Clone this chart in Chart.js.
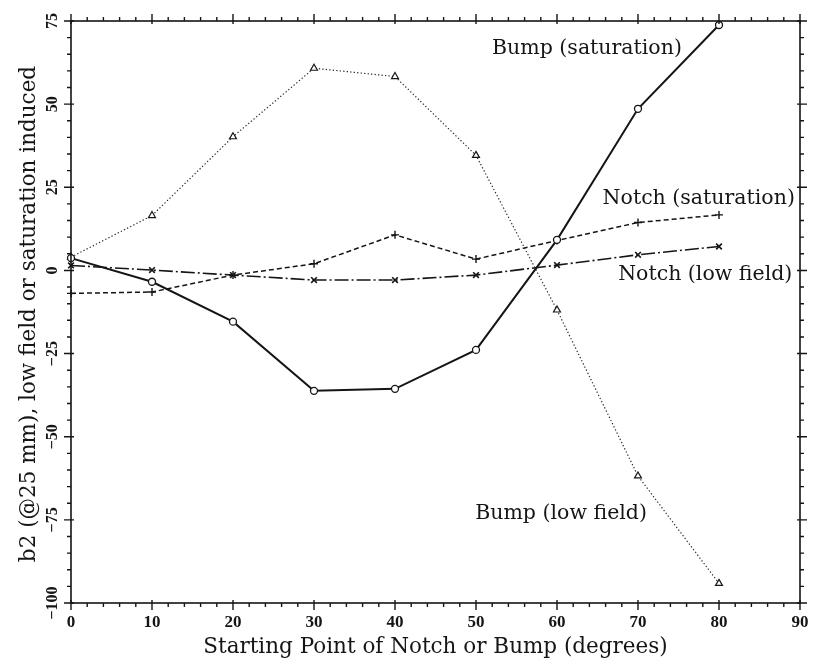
<!DOCTYPE html>
<html>
<head>
<meta charset="utf-8">
<script src="https://cdn.jsdelivr.net/npm/chart.js@4/dist/chart.umd.min.js"></script>
<style>
  html, body { margin: 0; padding: 0; background: #fff; overflow: hidden; }
  #wrap { width: 824px; height: 668px; position: relative; }
</style>
</head>
<body>
<div id="wrap"><canvas id="chart"></canvas></div>
<script>
// values
const degrees = [0, 10, 20, 30, 40, 50, 60, 70, 80];
const bumpSaturation = [3.7, -3.4, -15.4, -36.2, -35.6, -23.9, 9.2, 48.6, 73.8];
const bumpLowField = [4.0, 16.5, 40.2, 60.8, 58.3, 34.6, -11.9, -61.8, -94.1];
const notchSaturation = [-6.9, -6.5, -1.4, 2.0, 10.7, 3.4, 9.0, 14.4, 16.7];
const notchLowField = [1.5, 0.1, -1.4, -2.9, -2.9, -1.4, 1.6, 4.7, 7.2];

const xTickLabels = [0, 10, 20, 30, 40, 50, 60, 70, 80, 90];
const yTickLabels = [-100, -75, -50, -25, 0, 25, 50, 75];
const xTitle = 'Starting Point of Notch or Bump (degrees)';
const yTitle = 'b2 (@25 mm), low field or saturation induced';

const curveLabels = ['Bump (saturation)', 'Notch (saturation)', 'Notch (low field)', 'Bump (low field)'];
const curveLabelX = [63.7, 77.5, 78.3, 60.5];
const curveLabelY = [66.6, 21.5, -1.4, -73.2];

const INK = '#151515';
const SERIF = '"DejaVu Serif", serif';

function pts(ys) { return degrees.map((d, i) => ({x: d, y: ys[i]})); }

const axesPlugin = {
    id: 'axesPlugin',
    afterDraw(chart) {
        const ctx = chart.ctx;
        const xs = chart.scales.x, ys = chart.scales.y;
        const a = chart.chartArea;
        ctx.save();
        ctx.strokeStyle = INK;
        ctx.fillStyle = INK;
        ctx.lineWidth = 1.6;
        ctx.strokeRect(a.left, a.top, a.right - a.left, a.bottom - a.top);

        ctx.lineWidth = 1.4;
        ctx.beginPath();
        // x ticks, every 2 degrees, major every 10
        for(let v = 0; v <= 90; v += 2) {
            const px = xs.getPixelForValue(v);
            const major = v % 10 === 0;
            const out = major ? 7 : 4, inn = major ? 3 : 0;
            ctx.moveTo(px, a.bottom - inn); ctx.lineTo(px, a.bottom + out);
            ctx.moveTo(px, a.top + inn); ctx.lineTo(px, a.top - out);
        }
        // y ticks, every 5, major every 25
        for(let v = -100; v <= 75; v += 5) {
            const py = ys.getPixelForValue(v);
            const major = v % 25 === 0;
            const out = major ? 7 : 4, inn = major ? 3 : 0;
            ctx.moveTo(a.left + inn, py); ctx.lineTo(a.left - out, py);
            ctx.moveTo(a.right - inn, py); ctx.lineTo(a.right + out, py);
        }
        ctx.stroke();

        // tick labels
        ctx.font = 'bold 17px "Liberation Serif", serif';
        ctx.textAlign = 'center';
        ctx.textBaseline = 'middle';
        xTickLabels.forEach(v => ctx.fillText(String(v), xs.getPixelForValue(v), a.bottom + 20));
        ctx.font = 'bold 16px "Liberation Serif", serif';
        yTickLabels.forEach(v => {
            ctx.save();
            ctx.translate(a.left - 18, ys.getPixelForValue(v));
            ctx.rotate(-Math.PI / 2);
            ctx.fillText(String(v).replace('-', '\u2212'), 0, 0);
            ctx.restore();
        });

        // axis titles
        ctx.font = '21.5px ' + SERIF;
        ctx.fillText(xTitle, (a.left + a.right) / 2, a.bottom + 44);
        ctx.save();
        ctx.translate(a.left - 42, (a.top + a.bottom) / 2 + 2);
        ctx.rotate(-Math.PI / 2);
        ctx.fillText(yTitle, 0, 0);
        ctx.restore();

        // curve labels
        ctx.font = '20.5px ' + SERIF;
        curveLabels.forEach((t, i) => {
            ctx.fillText(t, xs.getPixelForValue(curveLabelX[i]), ys.getPixelForValue(curveLabelY[i]));
        });
        ctx.restore();
    }
};

new Chart(document.getElementById('chart'), {
    type: 'line',
    data: {
        datasets: [
            { label: 'Bump (saturation)', data: pts(bumpSaturation), borderColor: INK, borderWidth: 2,
              pointStyle: 'circle', pointRadius: 3.5, pointBorderWidth: 1.3, pointBackgroundColor: '#fff', pointBorderColor: INK },
            { label: 'Bump (low field)', data: pts(bumpLowField), borderColor: '#2a2a2a', borderWidth: 1.2, borderDash: [1.3, 2.2],
              pointStyle: 'triangle', pointRadius: 4, pointBorderWidth: 1.2, pointBackgroundColor: '#fff', pointBorderColor: INK },
            { label: 'Notch (saturation)', data: pts(notchSaturation), borderColor: INK, borderWidth: 1.5, borderDash: [5, 3],
              pointStyle: 'cross', pointRadius: 4, pointBorderWidth: 1.4, pointBorderColor: INK },
            { label: 'Notch (low field)', data: pts(notchLowField), borderColor: INK, borderWidth: 1.6, borderDash: [14, 3, 2, 3],
              pointStyle: 'crossRot', pointRadius: 4, pointBorderWidth: 1.6, pointBorderColor: INK }
        ]
    },
    options: {
        responsive: true,
        maintainAspectRatio: false,
        animation: false,
        clip: false,
        layout: { padding: { left: 71, right: 24, top: 21, bottom: 65 } },
        elements: { line: { tension: 0, fill: false } },
        scales: {
            x: { type: 'linear', min: 0, max: 90, display: false },
            y: { type: 'linear', min: -100, max: 75, display: false }
        },
        plugins: { legend: { display: false }, tooltip: { enabled: false } }
    },
    plugins: [axesPlugin]
});
</script>
</body>
</html>
